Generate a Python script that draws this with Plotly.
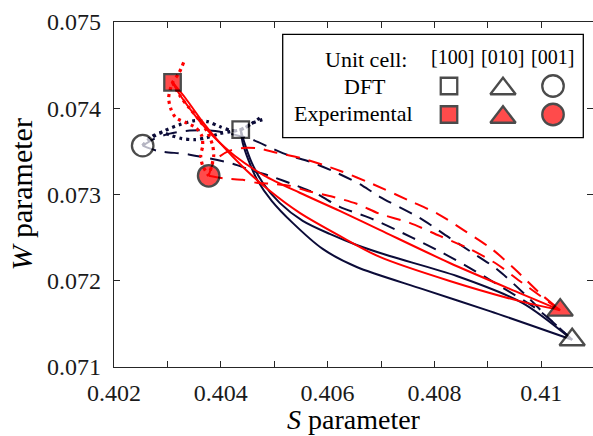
import plotly.graph_objects as go

# ---------------- data (S, W) ----------------
# markers: order [100], [010], [001]
dft_S = [0.404373, 0.410580, 0.402537]
dft_W = [0.073752, 0.071316, 0.073566]
exp_S = [0.403096, 0.410356, 0.403773]
exp_W = [0.074299, 0.071659, 0.073217]

# solid: [100] -> [010]
navy_solid_1_S = [0.404373, 0.404448, 0.404579, 0.404785, 0.405103, 0.405534, 0.406039, 0.406545, 0.407163, 0.408418, 0.409654, 0.410580]
navy_solid_1_W = [0.073752, 0.073590, 0.073369, 0.073136, 0.072903, 0.072694, 0.072543, 0.072415, 0.072287, 0.072055, 0.071741, 0.071316]
navy_solid_2_S = [0.404373, 0.404410, 0.404522, 0.404691, 0.404953, 0.405346, 0.405908, 0.406545, 0.407781, 0.409036, 0.410580]
navy_solid_2_W = [0.073752, 0.073601, 0.073392, 0.073159, 0.072927, 0.072671, 0.072369, 0.072159, 0.071903, 0.071648, 0.071316]
red_solid_1_S = [0.403096, 0.403268, 0.403549, 0.403848, 0.404260, 0.404822, 0.405478, 0.406227, 0.406976, 0.408287, 0.409597, 0.410356]
red_solid_1_W = [0.074299, 0.074124, 0.073892, 0.073682, 0.073450, 0.073217, 0.073020, 0.072810, 0.072590, 0.072206, 0.071857, 0.071659]
red_solid_2_S = [0.403096, 0.403343, 0.403642, 0.403979, 0.404448, 0.404916, 0.405478, 0.406227, 0.406976, 0.408287, 0.409597, 0.410356]
red_solid_2_W = [0.074299, 0.074113, 0.073857, 0.073601, 0.073299, 0.073043, 0.072787, 0.072520, 0.072276, 0.071997, 0.071764, 0.071659]

# dashed: [001] -> [010]
navy_dash_1_S = [0.402537, 0.402762, 0.403043, 0.403418, 0.403792, 0.404167, 0.404541, 0.404972, 0.405290, 0.405665, 0.406171, 0.406657, 0.406976, 0.407725, 0.408230, 0.408661, 0.409167, 0.409691, 0.410159, 0.410580]
navy_dash_1_W = [0.073566, 0.073648, 0.073706, 0.073741, 0.073741, 0.073706, 0.073648, 0.073531, 0.073450, 0.073380, 0.073252, 0.073101, 0.072973, 0.072729, 0.072520, 0.072345, 0.072136, 0.071845, 0.071555, 0.071316]
navy_dash_2_S = [0.402537, 0.402800, 0.403418, 0.404223, 0.404597, 0.404916, 0.405421, 0.405796, 0.406227, 0.406788, 0.407594, 0.408155, 0.408698, 0.409167, 0.409972, 0.410580]
navy_dash_2_W = [0.073566, 0.073508, 0.073462, 0.073357, 0.073276, 0.073217, 0.073101, 0.073008, 0.072857, 0.072729, 0.072497, 0.072322, 0.072136, 0.071962, 0.071648, 0.071316]
red_dash_1_S = [0.403773, 0.403886, 0.404167, 0.404485, 0.404728, 0.405047, 0.405478, 0.405908, 0.406227, 0.406788, 0.407537, 0.408062, 0.408568, 0.409073, 0.409504, 0.409972, 0.410356]
red_dash_1_W = [0.073217, 0.073392, 0.073508, 0.073543, 0.073531, 0.073485, 0.073427, 0.073345, 0.073276, 0.073136, 0.072927, 0.072776, 0.072578, 0.072369, 0.072136, 0.071857, 0.071659]
red_dash_2_S = [0.403773, 0.404110, 0.404410, 0.404672, 0.404972, 0.405290, 0.405609, 0.406096, 0.406545, 0.406976, 0.407537, 0.408099, 0.408661, 0.409167, 0.409597, 0.410356]
red_dash_2_W = [0.073217, 0.073183, 0.073171, 0.073136, 0.073124, 0.073101, 0.073043, 0.072973, 0.072892, 0.072776, 0.072671, 0.072520, 0.072369, 0.072194, 0.071997, 0.071659]

# dotted: [100] <-> [001]
navy_dot_1_S = [0.402537, 0.402706, 0.402949, 0.403230, 0.403511, 0.403755, 0.403979, 0.404204, 0.404373, 0.404579, 0.404766]
navy_dot_1_W = [0.073566, 0.073659, 0.073741, 0.073810, 0.073857, 0.073845, 0.073787, 0.073741, 0.073752, 0.073822, 0.073904]
navy_dot_2_S = [0.402537, 0.402706, 0.402893, 0.403081, 0.403268, 0.403511, 0.403736, 0.403979, 0.404185, 0.404373, 0.404616, 0.404841]
navy_dot_2_W = [0.073566, 0.073671, 0.073717, 0.073682, 0.073648, 0.073636, 0.073659, 0.073706, 0.073729, 0.073752, 0.073834, 0.073880]
red_dot_1_S = [0.403305, 0.403212, 0.403096, 0.403024, 0.403062, 0.403155, 0.403343, 0.403530, 0.403642, 0.403661, 0.403624, 0.403661, 0.403773]
red_dot_1_W = [0.074531, 0.074403, 0.074299, 0.074124, 0.073997, 0.073892, 0.073834, 0.073776, 0.073682, 0.073566, 0.073450, 0.073334, 0.073217]
red_dot_2_S = [0.403096, 0.403230, 0.403418, 0.403605, 0.403755, 0.403848, 0.403867, 0.403830, 0.403773]
red_dot_2_W = [0.074299, 0.074148, 0.073997, 0.073857, 0.073717, 0.073566, 0.073450, 0.073334, 0.073217]

x_ticks = [0.402, 0.403, 0.404, 0.405, 0.406, 0.407, 0.408, 0.409, 0.410]
x_ticktext = ["0.402", "", "0.404", "", "0.406", "", "0.408", "", "0.41"]
y_ticks = [0.071, 0.072, 0.073, 0.074, 0.075]
y_ticktext = ["0.071", "0.072", "0.073", "0.074", "0.075"]
unit_cells = ["[100]", "[010]", "[001]"]
row_labels = ["DFT", "Experimental"]

# ---------------- style ----------------
NAVY = "#0b0b38"
RED = "#ff0000"
AX = "#262626"
FONT = "Liberation Serif, Times New Roman, DejaVu Serif, serif"
W_FIG, H_FIG = 593, 436
ML, MR, MT, MB = 114, 0, 22, 69
PW, PH = W_FIG - ML - MR, H_FIG - MT - MB

def fx(px):
    return (px - ML) / PW

def fy(py):
    return (H_FIG - MB - py) / PH

fig = go.Figure()

def add_curve(S, W, color, dash, width=2.0):
    fig.add_trace(go.Scatter(x=S, y=W, mode="lines", hoverinfo="skip",
                             line=dict(color=color, width=width, dash=dash,
                                       shape="spline", smoothing=0.8)))

DASH = "14px,9px"
DOT = "3px,4px"
add_curve(navy_solid_1_S, navy_solid_1_W, NAVY, "solid")
add_curve(navy_solid_2_S, navy_solid_2_W, NAVY, "solid")
add_curve(navy_dash_1_S, navy_dash_1_W, NAVY, DASH)
add_curve(navy_dash_2_S, navy_dash_2_W, NAVY, DASH)
add_curve(navy_dot_1_S, navy_dot_1_W, NAVY, DOT, 3.2)
add_curve(navy_dot_2_S, navy_dot_2_W, NAVY, DOT, 3.2)
add_curve(red_solid_1_S, red_solid_1_W, RED, "solid")
add_curve(red_solid_2_S, red_solid_2_W, RED, "solid")
add_curve(red_dash_1_S, red_dash_1_W, RED, DASH)
add_curve(red_dash_2_S, red_dash_2_W, RED, DASH)
add_curve(red_dot_1_S, red_dot_1_W, RED, DOT, 3.2)
add_curve(red_dot_2_S, red_dot_2_W, RED, DOT, 3.2)

SYMS = ["square", "triangle-up", "circle"]
SIZES = [16.5, 22, 21.5]
EDGE_W = 2.3
fig.add_trace(go.Scatter(x=dft_S, y=dft_W, mode="markers", hoverinfo="skip",
                         marker=dict(symbol=SYMS, size=SIZES, color="white",
                                     line=dict(color="black", width=EDGE_W))))
fig.add_trace(go.Scatter(x=exp_S, y=exp_W, mode="markers", hoverinfo="skip",
                         marker=dict(symbol=SYMS, size=SIZES, color=RED,
                                     line=dict(color="black", width=EDGE_W))))

# ---------------- legend (table) ----------------
col_px = [449, 503, 553]
row_py = [86, 114.5]
tri_shift = 2.75
for r, fill in enumerate(["white", RED]):
    lx = [fx(c) for c in col_px]
    ly = [fy(row_py[r] + (tri_shift if s == "triangle-up" else 0)) for s in SYMS]
    fig.add_trace(go.Scatter(x=lx, y=ly, xaxis="x2", yaxis="y2", mode="markers",
                             hoverinfo="skip",
                             marker=dict(symbol=SYMS, size=SIZES, color=fill,
                                         line=dict(color="black", width=EDGE_W))))

fig.add_shape(type="rect", xref="paper", yref="paper",
              x0=fx(282.7), x1=fx(583.3), y0=fy(137.7), y1=fy(34.3),
              line=dict(color="black", width=1.3), fillcolor="white", layer="below")

ann = []
ann.append(dict(text="Unit cell:", x=fx(409), y=fy(59), xanchor="right", yanchor="middle",
                font=dict(size=22)))
ann.append(dict(text=row_labels[0], x=fx(365), y=fy(86), xanchor="center", yanchor="middle",
                font=dict(size=22)))
ann.append(dict(text=row_labels[1], x=fx(353), y=fy(113), xanchor="center", yanchor="middle",
                font=dict(size=22)))
for c, lab in zip([452, 502, 552], unit_cells):
    ann.append(dict(text=lab, x=fx(c), y=fy(57), xanchor="center", yanchor="middle",
                    font=dict(size=20)))
ann.append(dict(text="<i>S</i> parameter", x=0.5, y=fy(419.5), xanchor="center",
                yanchor="middle", font=dict(size=28)))
ann.append(dict(text="<i>W</i> parameter", x=fx(21), y=0.5, xanchor="center",
                yanchor="middle", textangle=-90, font=dict(size=30)))
for a in ann:
    a.update(xref="paper", yref="paper", showarrow=False)
    a["font"].update(family=FONT, color="black")

def axis_style():
    return dict(showline=True, linecolor=AX, linewidth=1.3, mirror="ticks",
                ticks="inside", ticklen=6, tickwidth=1.2, tickcolor=AX,
                showgrid=False, zeroline=False,
                tickfont=dict(family=FONT, size=24, color="#1a1a1a"))

fig.update_layout(
    width=W_FIG, height=H_FIG,
    margin=dict(l=ML, r=MR, t=MT, b=MB),
    paper_bgcolor="white", plot_bgcolor="white",
    showlegend=False,
    font=dict(family=FONT),
    xaxis=dict(range=[0.402, 0.402 + PW / 53.4 * 0.001], tickvals=x_ticks, ticktext=x_ticktext,
               ticklabelstandoff=4, **axis_style()),
    yaxis=dict(range=[0.071, 0.075], tickvals=y_ticks, ticktext=y_ticktext,
               ticklabelstandoff=7, **axis_style()),
    xaxis2=dict(overlaying="x", range=[0, 1], visible=False),
    yaxis2=dict(overlaying="y", range=[0, 1], visible=False),
    annotations=ann,
)

fig.write_html("out.html")
